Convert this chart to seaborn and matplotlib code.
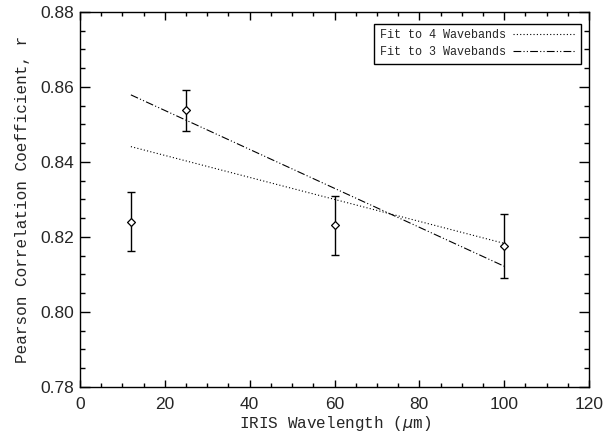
import matplotlib
matplotlib.use('Agg')
import matplotlib.pyplot as plt
import seaborn as sns
import pandas as pd
import numpy as np
from matplotlib.ticker import MultipleLocator

# measured points (IRIS bands)
wavelength = [12, 25, 60, 100]
pearson_r = [0.8241, 0.8538, 0.8231, 0.8176]
r_err = [0.0079, 0.0055, 0.0079, 0.0086]

# fitted lines, end points
fit4_x = [12, 100]
fit4_y = [0.8441, 0.8183]
fit3_x = [12, 100]
fit3_y = [0.8579, 0.8122]

sns.set_style('ticks')
plt.rcParams['font.family'] = ['Liberation Sans', 'DejaVu Sans']

pts = pd.DataFrame({'x': wavelength, 'r': pearson_r, 'err': r_err})
fit4 = pd.DataFrame({'x': fit4_x, 'r': fit4_y})
fit3 = pd.DataFrame({'x': fit3_x, 'r': fit3_y})

fig = plt.figure(figsize=(6.05, 4.36), dpi=100)
ax = fig.add_axes([0.1322, 0.1124, 0.8414, 0.8601])

sns.lineplot(data=fit4, x='x', y='r', ax=ax, color='black', lw=0.8,
             linestyle=(0, (1, 2)), label='Fit to 4 Wavebands')
sns.lineplot(data=fit3, x='x', y='r', ax=ax, color='black', lw=0.8,
             linestyle=(0, (7, 2, 1, 2, 1, 2)), label='Fit to 3 Wavebands')

ax.errorbar(pts['x'], pts['r'], yerr=pts['err'], fmt='none', ecolor='black',
            elinewidth=1.0, capsize=3, capthick=1.0)
sns.scatterplot(data=pts, x='x', y='r', ax=ax, marker='D', s=16,
                facecolor='white', edgecolor='black', linewidth=0.9, zorder=5)

ax.set_xlim(0, 120)
ax.set_ylim(0.78, 0.88)
ax.xaxis.set_major_locator(MultipleLocator(20))
ax.xaxis.set_minor_locator(MultipleLocator(5))
ax.yaxis.set_major_locator(MultipleLocator(0.02))
ax.yaxis.set_minor_locator(MultipleLocator(0.005))
ax.yaxis.set_major_formatter(matplotlib.ticker.FormatStrFormatter('%.2f'))
ax.tick_params(which='both', direction='in', top=True, right=True, color='black', width=1)
ax.tick_params(axis='x', which='major', length=5.4, labelsize=12.5, pad=7)
ax.tick_params(axis='x', which='minor', length=2.7)
ax.tick_params(axis='y', which='major', length=7.2, labelsize=12.5, pad=4)
ax.tick_params(axis='y', which='minor', length=3.6)
for s in ax.spines.values():
    s.set_linewidth(1.0)
    s.set_color('black')

mono = ['Liberation Mono', 'DejaVu Sans Mono']
ax.set_xlabel(r'IRIS Wavelength ($\mu$m)', family=mono, fontsize=11.5, labelpad=1.5)
ax.set_ylabel('Pearson Correlation Coefficient, r', family=mono, fontsize=11.5, labelpad=8)

leg = ax.legend(loc='upper right', bbox_to_anchor=(0.9835, 0.969), markerfirst=False,
                fancybox=False, framealpha=1, edgecolor='black',
                prop={'family': mono, 'size': 8.5}, handlelength=5.3,
                borderpad=0.45, labelspacing=0.45, handletextpad=0.6, borderaxespad=0)
leg.get_frame().set_linewidth(1.0)

fig.savefig('out.png', dpi=100)
